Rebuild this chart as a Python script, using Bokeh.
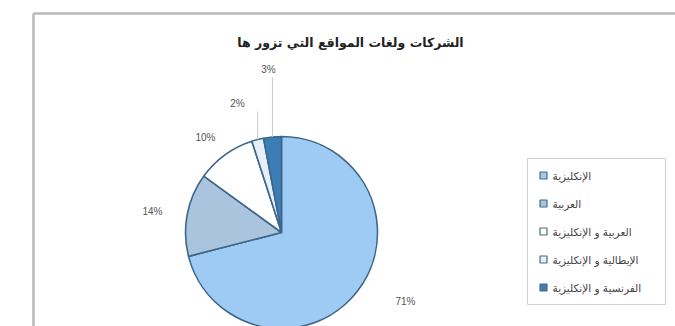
import math
from bokeh.plotting import figure
from bokeh.models import Range1d, ColumnDataSource
from bokeh.core.properties import value
from bokeh.embed import file_html
from bokeh.resources import INLINE

# ---- data ----
title_text = "الشركات ولغات المواقع التي تزور ها"
categories = [
    "الإنكليزية",
    "العربية",
    "العربية و الإنكليزية",
    "الإيطالية و الإنكليزية",
    "الفرنسية و الإنكليزية",
]
shares = [71, 14, 10, 2, 3]
labels = ["71%", "14%", "10%", "2%", "3%"]

# ---- style / layout ----
colors = ["#9DCBF3", "#A9C4DC", "#FFFFFF", "#E4EFF8", "#3D7DB5"]
edge = "#3E6688"
cx, cy, R = 281, 232, 96
label_pos = [(405, 301), (152, 211), (205, 137), (237, 103), (268, 69)]
W, H = 675, 326

p = figure(width=W, height=H, x_range=Range1d(0, W), y_range=Range1d(H, 0),
           output_backend="svg", toolbar_location=None, min_border=0,
           background_fill_color="white", border_fill_color="white")
p.axis.visible = False
p.grid.visible = False
p.outline_line_color = None

# frame
p.segment(x0=[33, 33], y0=[13, 13], x1=[W, 33], y1=[13, H],
          line_color="#B8B8B8", line_width=2.5)

# wedges clockwise from 12 o'clock (screen angles, anticlockwise positive)
total = sum(shares)
starts, ends = [], []
acc = 0
for s in shares:
    a0 = acc / total * 2 * math.pi
    acc += s
    a1 = acc / total * 2 * math.pi
    starts.append(math.pi / 2 - a0)
    ends.append(math.pi / 2 - a1)

src = ColumnDataSource(dict(start=starts, end=ends, color=colors))
p.wedge(x=cx, y=cy, radius=R, start_angle="start", end_angle="end",
        fill_color="color", line_color=edge, line_width=1.6, source=src,
        direction="clock")

# leader lines for small slices
lead_x0, lead_y0, lead_x1, lead_y1 = [], [], [], []
for i in (3, 4):
    mid = (starts[i] + ends[i]) / 2
    ex = cx + R * math.cos(mid)
    ey = cy - R * math.sin(mid)
    lead_x0.append(ex); lead_y0.append(ey)
    lead_x1.append(ex); lead_y1.append(label_pos[i][1] + 8)
p.segment(x0=lead_x0, y0=lead_y0, x1=lead_x1, y1=lead_y1,
          line_color="#C8C8C8", line_width=1)

# percent labels
p.text(x=[q[0] for q in label_pos], y=[q[1] for q in label_pos], text=labels,
       text_font=value("Liberation Sans"), text_font_size="10px",
       text_color="#555555", text_align="center", text_baseline="middle")

# title
p.text(x=[350], y=[42], text=[title_text], text_font=value("DejaVu Sans"),
       text_font_size="12.5px", text_font_style="bold", text_color="#222222",
       text_align="center", text_baseline="middle")

# legend box
p.rect(x=[596], y=[231], width=[138], height=[146], fill_color="white",
       line_color="#D0D0D0", line_width=1)
ly = [175, 203, 231, 259, 287]
p.rect(x=[543] * 5, y=ly, width=[7] * 5, height=[7] * 5,
       fill_color=colors, line_color="#4A6A88", line_width=1.2)
p.text(x=[552] * 5, y=ly, text=categories, text_font=value("DejaVu Sans"),
       text_font_size="10.5px", text_color="#444444", text_align="left",
       text_baseline="middle")

open("out.html", "w").write(file_html(p, INLINE))
